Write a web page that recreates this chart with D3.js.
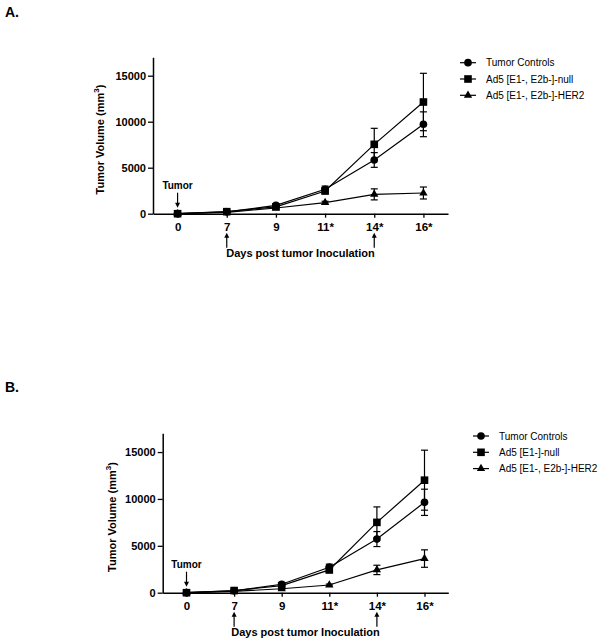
<!DOCTYPE html>
<html>
<head>
<meta charset="utf-8">
<script src="https://cdn.jsdelivr.net/npm/d3@7"></script>
<style>
  body { margin: 0; background: #fff; }
  svg { display: block; font-family: "Liberation Sans", Arial, sans-serif; }
</style>
</head>
<body>
<div id="chart"></div>
<script>
// x categories and y ticks
const days = ['0', '7', '9', '11*', '14*', '16*'];
const yTicks = [0, 5000, 10000, 15000];
const arrowDays = ['7', '14*'];

// panel A
const aLegend = ['Tumor Controls', 'Ad5 [E1-, E2b-]-null', 'Ad5 [E1-, E2b-]-HER2'];
const aControlMean = [0, 200, 900, 2650, 5840, 9720];
const aControlSem = [0, 40, 120, 350, 800, 1350];
const aNullMean = [0, 220, 750, 2470, 7540, 12140];
const aNullSem = [0, 40, 100, 300, 1740, 3120];
const aHer2Mean = [0, 150, 620, 1200, 2100, 2250];
const aHer2Sem = [0, 30, 80, 150, 600, 650];

// panel B
const bLegend = ['Tumor Controls', 'Ad5 [E1-]-null', 'Ad5 [E1-, E2b-]-HER2'];
const bControlMean = [0, 200, 900, 2720, 5720, 9640];
const bControlSem = [0, 40, 120, 320, 800, 1400];
const bNullMean = [0, 230, 750, 2430, 7500, 12000];
const bNullSem = [0, 40, 100, 300, 1650, 3200];
const bHer2Mean = [0, 150, 420, 820, 2430, 3640];
const bHer2Sem = [0, 30, 60, 100, 500, 930];

const symbols = [d3.symbolCircle, d3.symbolSquare, d3.symbolTriangle];
const symbolSizes = [46, 58, 30];

const svg = d3.select('#chart').append('svg')
    .attr('width', 603)
    .attr('height', 644);

function drawPanel(opts) {
    const g = svg.append('g');

    // panel letter
    g.append('text')
        .attr('x', 5).attr('y', opts.letterY)
        .style('font-size', '14px').style('font-weight', 'bold')
        .text(opts.letter);

    const x = d3.scalePoint()
        .domain(days)
        .range([opts.x0, opts.x1])
        .padding(0.5);

    const y = d3.scaleLinear()
        .domain([0, 17000])
        .range([opts.yBottom, opts.yTop]);

    // y axis
    const yAxis = g.append('g')
        .attr('transform', `translate(${opts.x0},0)`)
        .call(d3.axisLeft(y).tickValues(yTicks).tickSize(5).tickSizeOuter(0).tickPadding(2).tickFormat(d3.format('d')));
    yAxis.select('.domain').attr('stroke-width', 1.5);
    yAxis.selectAll('.tick line').attr('stroke-width', 1.3);
    yAxis.selectAll('text')
        .style('font-size', '11px').style('font-weight', 'bold')
        .attr('font-family', null);

    // x axis
    const xAxis = g.append('g')
        .attr('transform', `translate(0,${opts.yBottom})`)
        .call(d3.axisBottom(x).tickSize(4).tickSizeOuter(0).tickPadding(5));
    xAxis.select('.domain').attr('stroke-width', 1.5);
    xAxis.selectAll('.tick line').attr('stroke-width', 1.3);
    xAxis.selectAll('text')
        .style('font-size', '11.5px').style('font-weight', 'bold')
        .attr('font-family', null);

    // axis titles
    const yTitle = g.append('text')
        .attr('transform', `translate(${opts.yTitleX},${(opts.yTop + opts.yBottom) / 2 + 4}) rotate(-90)`)
        .attr('text-anchor', 'middle')
        .style('font-size', '11px').style('font-weight', 'bold');
    yTitle.append('tspan').text('Tumor Volume (mm');
    yTitle.append('tspan').attr('dy', -5).style('font-size', '8px').text('3');
    yTitle.append('tspan').attr('dy', 5).text(')');

    g.append('text')
        .attr('x', (opts.x0 + opts.x1) / 2)
        .attr('y', opts.yBottom + 43)
        .attr('text-anchor', 'middle')
        .style('font-size', '11px').style('font-weight', 'bold')
        .text('Days post tumor Inoculation');

    // "Tumor" annotation with down arrow
    const x0pt = x(days[0]);
    g.append('text')
        .attr('x', x0pt).attr('y', opts.yBottom - 25)
        .attr('text-anchor', 'middle')
        .style('font-size', '10px').style('font-weight', 'bold')
        .text('Tumor');
    drawArrow(g, x0pt, opts.yBottom - 21, opts.yBottom - 6);

    // up arrows under treatment days
    arrowDays.forEach(d => drawArrow(g, x(d), opts.yBottom + 34, opts.yBottom + 19));

    // series
    const line = d3.line().x((d, i) => x(days[i])).y(d => y(d));
    opts.series.forEach((s, k) => {
        g.append('path')
            .datum(s.mean)
            .attr('fill', 'none')
            .attr('stroke', '#000')
            .attr('stroke-width', 1.2)
            .attr('d', line);

        // error bars (SEM)
        s.mean.forEach((m, i) => {
            if (!s.sem[i]) return;
            const cx = x(days[i]);
            const top = y(m + s.sem[i]);
            const bot = y(m - s.sem[i]);
            g.append('line')
                .attr('x1', cx).attr('x2', cx).attr('y1', top).attr('y2', bot)
                .attr('stroke', '#000').attr('stroke-width', 1.2);
            [top, bot].forEach(yy => {
                g.append('line')
                    .attr('x1', cx - 3.5).attr('x2', cx + 3.5).attr('y1', yy).attr('y2', yy)
                    .attr('stroke', '#000').attr('stroke-width', 1.2);
            });
        });

        g.selectAll(null)
            .data(s.mean)
            .join('path')
            .attr('transform', (d, i) => `translate(${x(days[i])},${y(d)})`)
            .attr('d', d3.symbol().type(symbols[k]).size(symbolSizes[k]))
            .attr('fill', '#000');
    });

    // legend
    opts.legend.forEach((label, k) => {
        const ly = opts.legendY + k * 16.3;
        g.append('line')
            .attr('x1', opts.legendX - 8).attr('x2', opts.legendX + 8)
            .attr('y1', ly).attr('y2', ly)
            .attr('stroke', '#000').attr('stroke-width', 1.2);
        g.append('path')
            .attr('transform', `translate(${opts.legendX},${ly})`)
            .attr('d', d3.symbol().type(symbols[k]).size(symbolSizes[k]))
            .attr('fill', '#000');
        g.append('text')
            .attr('x', opts.legendX + 18).attr('y', ly + 3.5)
            .style('font-size', '10px')
            .text(label);
    });
}

function drawArrow(g, x, yFrom, yTo) {
    const dir = yTo > yFrom ? 1 : -1;
    g.append('line')
        .attr('x1', x).attr('x2', x)
        .attr('y1', yFrom).attr('y2', yTo - dir * 4)
        .attr('stroke', '#000').attr('stroke-width', 1.2);
    g.append('path')
        .attr('d', `M${x - 2.5},${yTo - dir * 5}L${x + 2.5},${yTo - dir * 5}L${x},${yTo}Z`)
        .attr('fill', '#000');
}

drawPanel({
    letter: 'A.', letterY: 17,
    x0: 153, x1: 448, yTop: 57.3, yBottom: 213.7,
    yTitleX: 104,
    legend: aLegend, legendX: 468, legendY: 62.7,
    series: [
        { mean: aControlMean, sem: aControlSem },
        { mean: aNullMean, sem: aNullSem },
        { mean: aHer2Mean, sem: aHer2Sem }
    ]
});

drawPanel({
    letter: 'B.', letterY: 392,
    x0: 162.7, x1: 448.3, yTop: 433.3, yBottom: 592.7,
    yTitleX: 115.5,
    legend: bLegend, legendX: 481, legendY: 436,
    series: [
        { mean: bControlMean, sem: bControlSem },
        { mean: bNullMean, sem: bNullSem },
        { mean: bHer2Mean, sem: bHer2Sem }
    ]
});
</script>
</body>
</html>
